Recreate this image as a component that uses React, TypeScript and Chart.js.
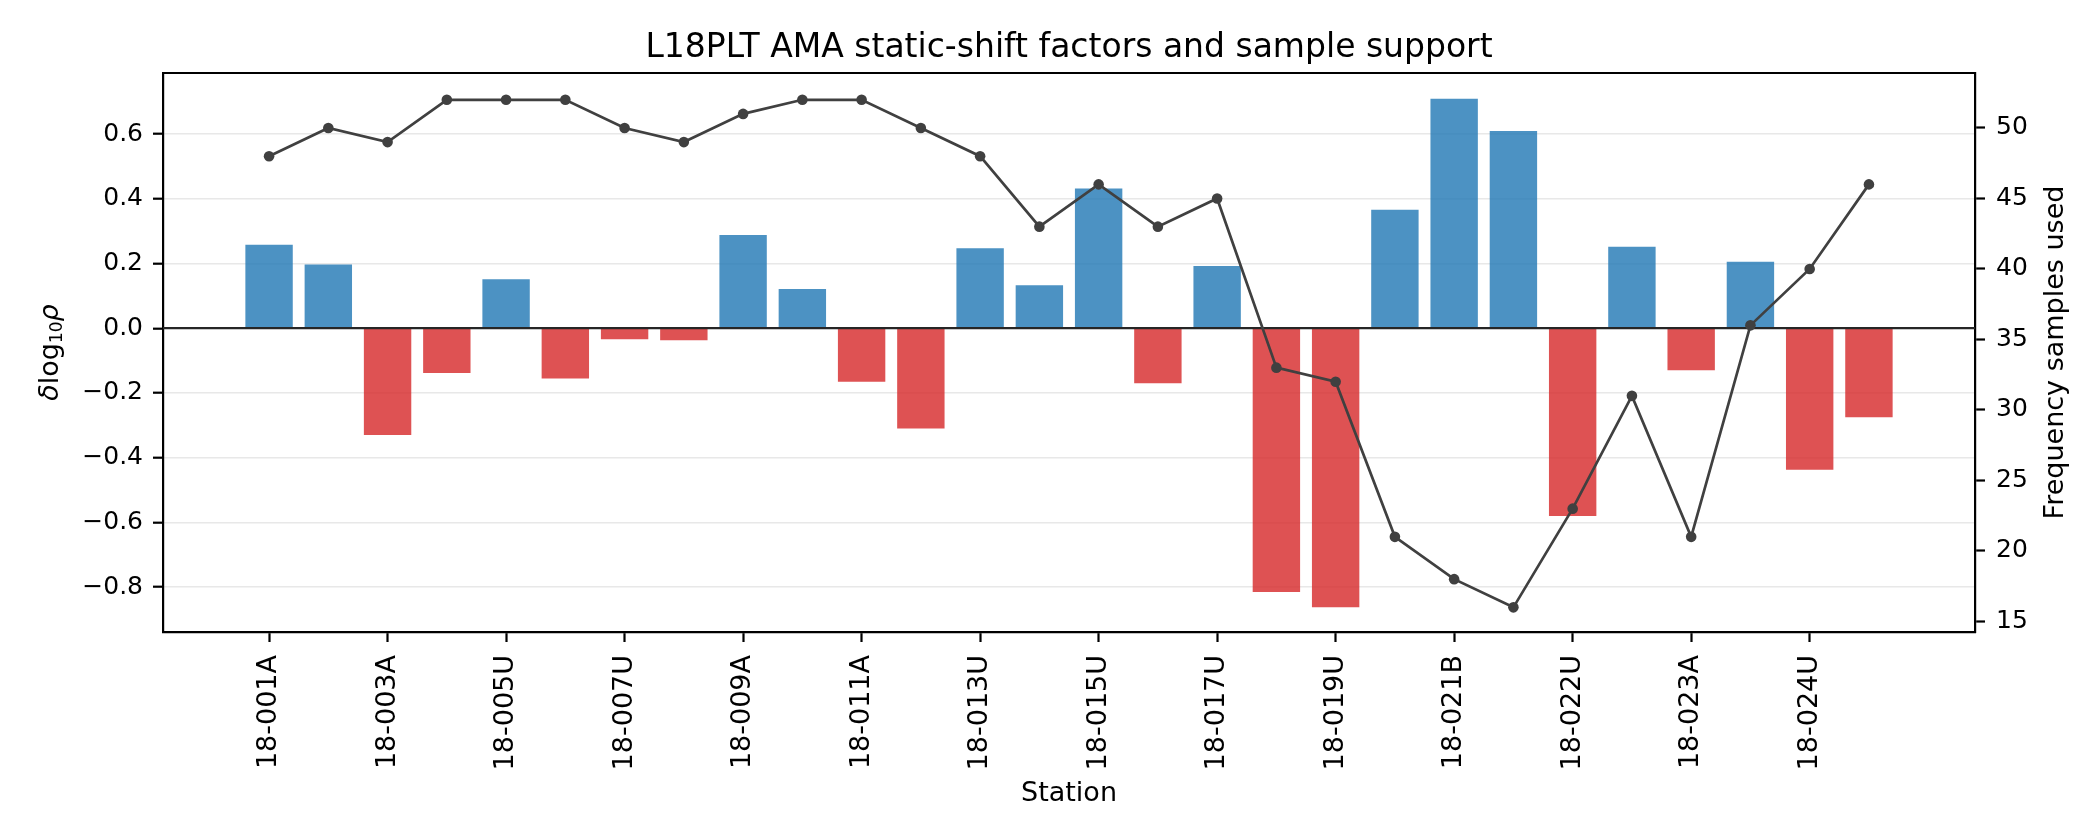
import { useEffect, useRef } from 'react';
import { Chart, registerables } from 'chart.js';

Chart.register(...registerables);

// station names (only every other one is labelled on the axis)
const stations = [
  '18-001A', '18-002U', '18-003A', '18-004A', '18-005U', '18-006U', '18-007U',
  '18-008A', '18-009A', '18-010U', '18-011A', '18-012A', '18-013U', '18-014U',
  '18-015U', '18-016A', '18-017U', '18-018U', '18-019U', '18-020A', '18-021B',
  '18-021U', '18-022U', '18-022W', '18-023A', '18-023U', '18-024U', '18-025A',
];

// static-shift factor, delta log10 rho
const shifts = [
  0.258, 0.197, -0.33, -0.138, 0.151, -0.155, -0.034, -0.037,
  0.288, 0.121, -0.165, -0.31, 0.247, 0.133, 0.432, -0.17,
  0.192, -0.815, -0.862, 0.366, 0.709, 0.609, -0.58, 0.252,
  -0.13, 0.205, -0.437, -0.275,
];

// number of frequency samples used
const samples = [
  48, 50, 49, 52, 52, 52, 50, 49, 51, 52, 52, 50, 48, 43,
  46, 43, 45, 33, 32, 21, 18, 16, 23, 31, 21, 36, 40, 46,
];

const stationTicks = [0, 2, 4, 6, 8, 10, 12, 14, 16, 18, 20, 22, 24, 26];
const shiftTicks = [-0.8, -0.6, -0.4, -0.2, 0, 0.2, 0.4, 0.6];
const sampleTicks = [15, 20, 25, 30, 35, 40, 45, 50];

const FONT = "'DejaVu Sans', sans-serif";
const BLUE = 'rgba(31, 119, 180, 0.8)';
const RED = 'rgba(214, 39, 40, 0.8)';
const LINE = '#404040';

const fmtShift = (v: number) => (v < -1e-9 ? '\u2212' : '') + Math.abs(v).toFixed(1);

const framePlugin = {
  id: 'frame',
  afterDatasetDraw(chart: any, args: any) {
    if (args.index !== 0) return;
    const { ctx, chartArea } = chart;
    const y0 = chart.scales.y.getPixelForValue(0);
    ctx.save();
    ctx.strokeStyle = '#262626';
    ctx.lineWidth = 2.2;
    ctx.beginPath();
    ctx.moveTo(chartArea.left, y0);
    ctx.lineTo(chartArea.right, y0);
    ctx.stroke();
    ctx.restore();
  },
  afterDraw(chart: any) {
    const { ctx, chartArea } = chart;
    const midY = (chartArea.top + chartArea.bottom) / 2;
    ctx.save();
    ctx.strokeStyle = '#000';
    ctx.lineWidth = 2.2;
    ctx.beginPath();
    ctx.moveTo(chartArea.left - 1, chartArea.top);
    ctx.lineTo(chartArea.right + 1, chartArea.top);
    ctx.stroke();

    ctx.fillStyle = '#000';
    ctx.textBaseline = 'alphabetic';
    ctx.textAlign = 'center';
    ctx.font = `33px ${FONT}`;
    ctx.fillText('L18PLT AMA static-shift factors and sample support', (chartArea.left + chartArea.right) / 2, 57);

    // right axis label, reading bottom to top
    ctx.save();
    ctx.font = `27px ${FONT}`;
    ctx.translate(2063, midY);
    ctx.rotate(-Math.PI / 2);
    ctx.fillText('Frequency samples used', 0, 0);
    ctx.restore();

    // left axis label with italic symbols and subscript
    const parts = [
      { t: '\u03b4', f: `italic 27px ${FONT}`, dy: 0 },
      { t: 'log', f: `27px ${FONT}`, dy: 0 },
      { t: '10', f: `17px ${FONT}`, dy: 4 },
      { t: '\u03c1', f: `italic 27px ${FONT}`, dy: 0 },
    ];
    let total = 0;
    const widths = parts.map(p => {
      ctx.font = p.f;
      const w = ctx.measureText(p.t).width;
      total += w;
      return w;
    });
    ctx.translate(58, midY);
    ctx.rotate(-Math.PI / 2);
    ctx.textAlign = 'left';
    let x = -total / 2;
    parts.forEach((p, i) => {
      ctx.font = p.f;
      ctx.fillText(p.t, x, p.dy);
      x += widths[i];
    });
    ctx.restore();
  },
};

export default function App() {
  const canvasRef = useRef(null as HTMLCanvasElement | null);
  const chartRef = useRef(null as any);

  useEffect(() => {
    if (!canvasRef.current) return;
    const ctx = canvasRef.current.getContext('2d');
    if (!ctx) return;
    if (chartRef.current) chartRef.current.destroy();

    const yFont = { family: FONT, size: 25 };
    const xFont = { family: FONT, size: 27 };

    chartRef.current = new Chart(ctx, {
      type: 'bar',
      data: {
        datasets: [
          {
            type: 'bar',
            data: shifts.map((v, i) => ({ x: i, y: v })),
            backgroundColor: shifts.map(v => (v >= 0 ? BLUE : RED)),
            borderWidth: 0,
            categoryPercentage: 1,
            barPercentage: 0.8,
            yAxisID: 'y',
            order: 1,
          },
          {
            type: 'line',
            data: samples.map((v, i) => ({ x: i, y: v })),
            borderColor: LINE,
            backgroundColor: LINE,
            borderWidth: 2.7,
            pointRadius: 5.3,
            pointBorderWidth: 0,
            tension: 0,
            yAxisID: 'y1',
            order: 0,
          },
        ],
      } as any,
      options: {
        animation: false,
        responsive: true,
        maintainAspectRatio: false,
        devicePixelRatio: 1,
        layout: { padding: { top: 73, left: 0, right: 0, bottom: 0 } },
        plugins: {
          legend: { display: false },
          tooltip: { enabled: false },
          title: { display: false },
        },
        scales: {
          x: {
            type: 'linear',
            min: -1.79,
            max: 28.79,
            offset: false,
            afterBuildTicks: (s: any) => { s.ticks = stationTicks.map(v => ({ value: v })); },
            afterFit: (s: any) => { s.height = 208; },
            ticks: {
              autoSkip: false,
              minRotation: 90,
              maxRotation: 90,
              padding: 13,
              color: '#000',
              font: xFont,
              callback: (v: any) => stations[v] ?? '',
            },
            grid: { offset: false, drawOnChartArea: false, drawTicks: true, tickLength: 10, tickWidth: 2.2, tickColor: '#000' },
            border: { display: true, color: '#000', width: 2.2 },
            title: { display: true, text: 'Station', color: '#000', font: xFont, padding: { top: 0, bottom: 30 } },
          },
          y: {
            type: 'linear',
            position: 'left',
            min: -0.9385,
            max: 0.7885,
            afterBuildTicks: (s: any) => { s.ticks = shiftTicks.map(v => ({ value: v })); },
            afterFit: (s: any) => { s.width = 163; },
            ticks: { padding: 10, color: '#000', font: yFont, callback: (v: any) => fmtShift(v) },
            grid: {
              color: (c: any) => (Math.abs(c.tick?.value ?? 1) < 1e-9 ? 'rgba(0,0,0,0)' : '#e8e8e8'),
              lineWidth: 1.4,
              drawTicks: true,
              tickLength: 10,
              tickWidth: 2.2,
              tickColor: '#000',
            },
            border: { display: true, color: '#000', width: 2.2 },
          },
          y1: {
            type: 'linear',
            position: 'right',
            min: 14.25,
            max: 53.9,
            afterBuildTicks: (s: any) => { s.ticks = sampleTicks.map(v => ({ value: v })); },
            afterFit: (s: any) => { s.width = 125; },
            ticks: { padding: 11, color: '#000', font: yFont },
            grid: { drawOnChartArea: false, drawTicks: true, tickLength: 10, tickWidth: 2.2, tickColor: '#000' },
            border: { display: true, color: '#000', width: 2.2 },
          },
        },
      } as any,
      plugins: [framePlugin],
    });

    return () => {
      if (chartRef.current) {
        chartRef.current.destroy();
        chartRef.current = null;
      }
    };
  }, []);

  return (
    <div style={{ position: 'fixed', left: 0, top: 0, width: 2100, height: 840, background: '#fff' }}>
      <canvas ref={canvasRef} />
    </div>
  );
}
